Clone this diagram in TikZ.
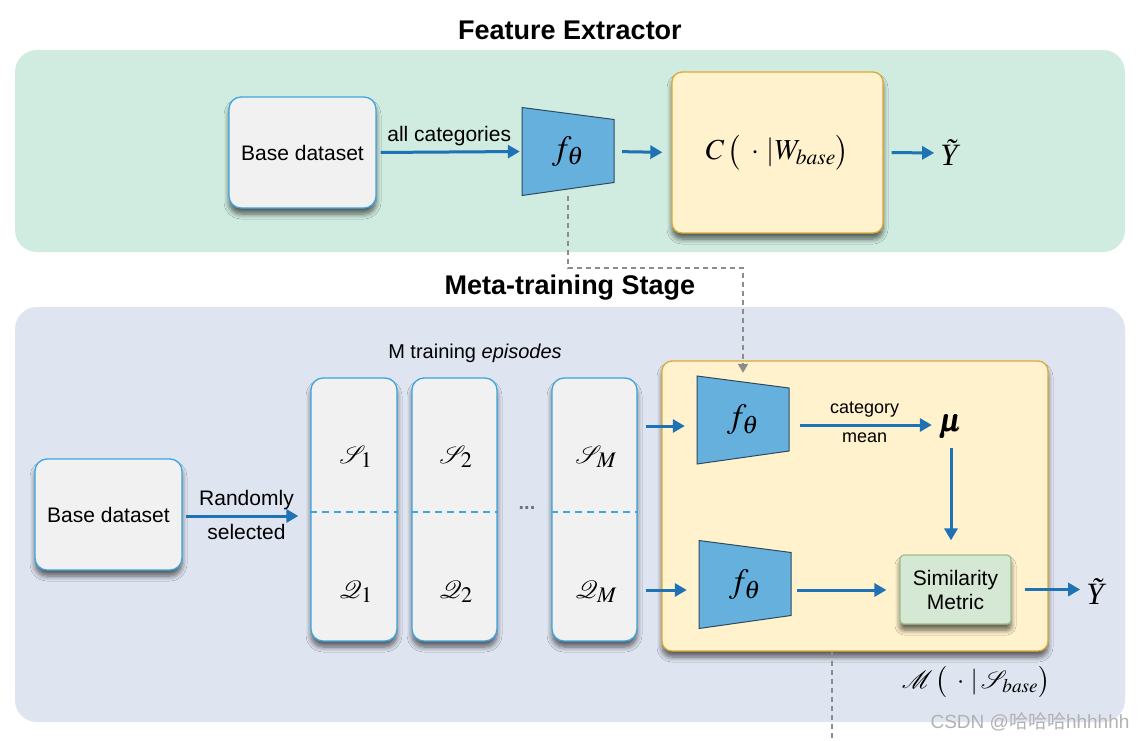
\documentclass[tikz,border=0pt]{standalone}
\usepackage{amsmath}
\IfFileExists{mathptmx.sty}{\usepackage{mathptmx}}{}
\IfFileExists{mathrsfs.sty}{\usepackage{mathrsfs}}{\let\mathscr\mathcal}
\usepackage[no-math]{fontspec}
\setmainfont{Liberation Sans}
\newfontfamily\cjkfont{Noto Sans CJK SC}
\newfontfamily\serifit{Liberation Serif}
\usetikzlibrary{shadows.blur,arrows.meta,calc}
\definecolor{greenpanel}{HTML}{D0EBDF}
\definecolor{bluepanel}{HTML}{DEE4F0}
\definecolor{boxfill}{HTML}{F1F1F1}
\definecolor{boxborder}{HTML}{3DA5E0}
\definecolor{trapfill}{HTML}{65B0DD}
\definecolor{trapborder}{HTML}{2E4A63}
\definecolor{yfill}{HTML}{FFF2CC}
\definecolor{yborder}{HTML}{DDAA33}
\definecolor{simfill}{HTML}{D5E8D4}
\definecolor{simborder}{HTML}{9DBE8E}
\definecolor{arrblue}{HTML}{1F72B4}
\definecolor{dashgray}{HTML}{8C8C8C}
\newcommand\trapnode[3]{%
  \filldraw[fill=trapfill, draw=trapborder, line width=1pt]
    (#2-46,#3-44) -- (#2+46,#3-32) -- (#2+46,#3+31) -- (#2-46,#3+44) -- cycle;
  \node[minimum width=92pt, minimum height=88pt, inner sep=0pt] (#1) at (#2,#3)
    {\fontsize{34}{36}\selectfont$f_\theta$};}
\newcommand\Ytilde{{\serifit\itshape Ỹ}}
\begin{document}
\begin{tikzpicture}[x=1pt,y=-1pt,
  panel/.style={rounded corners=22pt},
  shad/.style={blur shadow={shadow xshift=0pt,shadow yshift=-6pt,shadow blur radius=5pt,shadow opacity=60,shadow blur steps=6}},
  box/.style={draw=boxborder, line width=1.3pt, fill=boxfill, rounded corners=12pt, inner sep=0pt, shad, font=\fontsize{21}{24}\selectfont},
  ybox/.style={draw=yborder, line width=1.3pt, fill=yfill, rounded corners=10pt, inner sep=0pt, shad},
  simbox/.style={draw=simborder, line width=1.2pt, fill=simfill, rounded corners=4pt, inner sep=0pt, shad, align=center, font=\fontsize{21}{24}\selectfont},
  arr/.style={draw=arrblue, line width=3pt, -{Triangle[length=12pt,width=13pt]}},
  gdash/.style={draw=dashgray, line width=2pt, dash pattern=on 5pt off 4pt},
  coldash/.style={draw=boxborder, line width=1.2pt, dash pattern=on 7pt off 5pt},
  lbl/.style={font=\fontsize{21}{24}\selectfont, inner sep=0pt},
  slbl/.style={font=\fontsize{18}{20}\selectfont, inner sep=0pt},
  ttl/.style={font=\fontsize{27}{30}\selectfont\bfseries, inner sep=0pt},
  mth/.style={font=\fontsize{31}{33}\selectfont, inner sep=0pt},
  scr/.style={font=\fontsize{30}{32}\selectfont, inner sep=0pt}]
\useasboundingbox (0,0) rectangle (1146,741);
\fill[white] (0,0) rectangle (1146,741);
% panels
\fill[greenpanel, panel] (15,50) rectangle (1125,252);
\fill[bluepanel, panel] (15,307) rectangle (1125,722);
\node[ttl] (t1) at (570,30) {Feature Extractor};
\node[ttl] (t2) at (570,288) {Meta-training Stage};
% top row
\node[box, minimum width=147pt, minimum height=111pt] (base1) at (302.5,152.5) {Base dataset};
\trapnode{f1}{568}{151.5}
\node[ybox, minimum width=211pt, minimum height=161pt] (cbox) at (777.5,152.5)
  {\fontsize{29}{31}\selectfont$C\,\big(\;\cdot\,|W_{base}\big)$};
\node[mth] (y1) at (949,153) {\Ytilde};
\draw[arr, shorten <=4pt, shorten >=2pt] (base1.east) -- (f1.west)
  node[lbl, midway, above=5pt] (lab1) {all categories};
\draw[arr, shorten <=8pt, shorten >=9pt] (f1.east) -- (cbox.west);
\draw[arr, shorten <=8pt, shorten >=6pt] (cbox.east) -- (y1.west);
% lower panel
\node[lbl, font=\fontsize{20}{22}\selectfont] (mte) at (475,353) {M training \textit{episodes}};
\node[box, minimum width=147pt, minimum height=111pt] (base2) at (108.5,514.5) {Base dataset};
\node[box, minimum width=86pt, minimum height=263pt] (col1) at (354,509.5) {};
\node[box, minimum width=85pt, minimum height=263pt] (col2) at (454.5,509.5) {};
\node[box, minimum width=85pt, minimum height=263pt] (colM) at (594.5,509.5) {};
\foreach \c in {col1,col2,colM}{
  \draw[coldash] ([yshift=-2.5pt]\c.west) -- ([yshift=-2.5pt]\c.east);
}
\node[scr] (s1) at (356,457) {$\mathscr{S}_1$};
\node[scr] (s2) at (456,457) {$\mathscr{S}_2$};
\node[scr] (sM) at (596,457) {$\mathscr{S}_M$};
\node[scr] (q1) at (356,592) {$\mathscr{Q}_1$};
\node[scr] (q2) at (456,592) {$\mathscr{Q}_2$};
\node[scr] (qM) at (596,592) {$\mathscr{Q}_M$};
\node[inner sep=0pt, text=black!55, font=\fontsize{20}{22}\selectfont\bfseries] (dots) at (527,508) {...};
\draw[arr, shorten <=3pt, shorten >=12pt] ([yshift=-1.5pt]base2.east) -- ([yshift=-1.5pt]base2.east -| col1.west)
  node[lbl, midway, above=5pt] (lr) {Randomly}
  node[lbl, midway, below=7pt] (ls) {selected};
% model box
\node[ybox, minimum width=386pt, minimum height=290pt] (mbox) at (855,506) {};
\trapnode{f2}{743}{420}
\trapnode{f3}{745}{584.5}
\node[mth, font=\fontsize{32}{34}\selectfont] (mu) at (951,427) {$\pmb{\mu}$};
\node[simbox, minimum width=111pt, minimum height=69pt] (sim) at (955.5,589.5) {Similarity\\Metric};
\node[mth] (y2) at (1095,592) {\Ytilde};
\draw[arr, shorten <=8pt, shorten >=12pt] ([yshift=-6pt]colM.east |- f2.west) -- ([yshift=-6pt]f2.west);
\draw[arr, shorten <=8pt, shorten >=12pt] ([yshift=-5.5pt]colM.east |- f3.west) -- ([yshift=-5.5pt]f3.west);
\draw[arr, shorten <=11pt, shorten >=8pt] ([yshift=-5pt]f2.east) -- ([yshift=-5pt]f2.east -| mu.west)
  node[slbl, midway, above=6pt] (lc) {category}
  node[slbl, midway, below=6pt] (lm) {mean};
\draw[arr, shorten <=9pt, shorten >=14pt] (mu.south) -- (mu.south |- sim.north);
\draw[arr, shorten <=6pt, shorten >=13pt] ([yshift=-5.5pt]f3.east) -- ([yshift=-5.5pt]f3.east -| sim.west);
\draw[arr, shorten <=13pt, shorten >=6pt] (sim.east) -- (sim.east -| y2.west);
\node[mth, font=\fontsize{26}{28}\selectfont] (mlab) at (976,682) {$\mathscr{M}\,\big(\;\cdot\,|\,\mathscr{S}_{base}\big)$};
% dashed gray connectors
\coordinate (corner1) at (568,268);
\coordinate (bot) at (832,741);
\draw[gdash, -{Triangle[length=9pt,width=10pt]}, shorten >=3pt] (f1.south) -- (corner1) -| (f2.north);
\draw[gdash] (mbox.south -| bot) -- (bot);
% watermark
\node[inner sep=0pt, text=black!30, font=\fontsize{19}{21}\selectfont] (wm) at (1030,722) {CSDN @{\cjkfont 哈哈哈}hhhhhh};
\end{tikzpicture}
\end{document}
